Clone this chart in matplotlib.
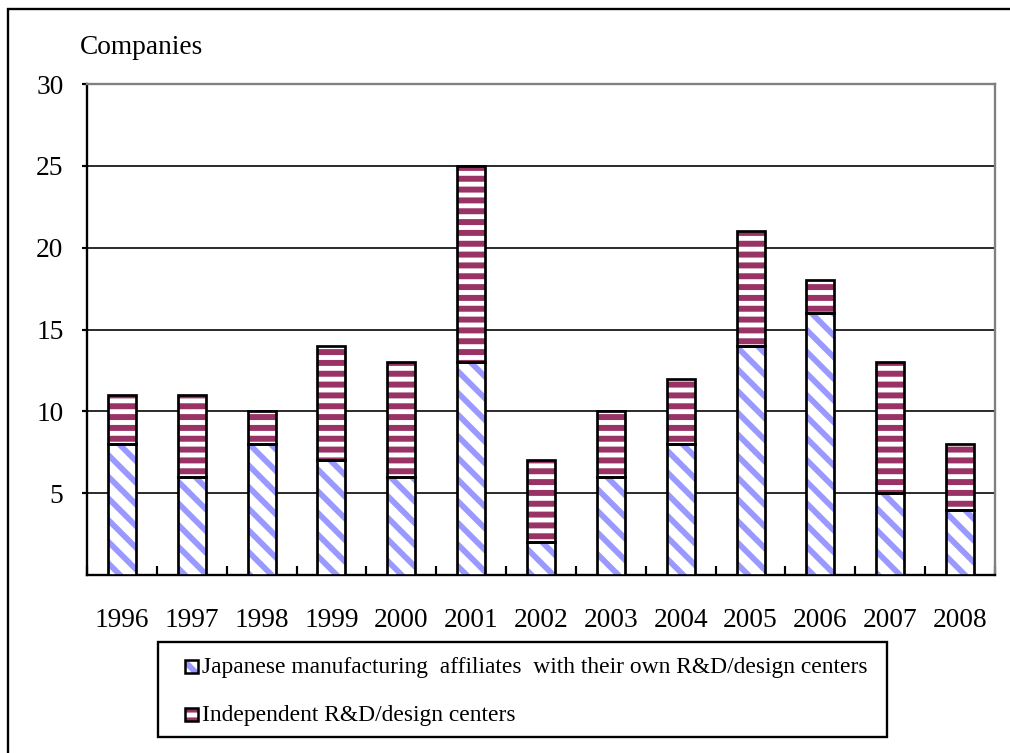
import numpy as np
import matplotlib.pyplot as plt
import matplotlib as mpl
from matplotlib.patches import Rectangle

# Data
years = ['1996', '1997', '1998', '1999', '2000', '2001', '2002',
         '2003', '2004', '2005', '2006', '2007', '2008']
affiliates = [8, 6, 8, 7, 6, 13, 2, 6, 8, 14, 16, 5, 4]
independent = [3, 5, 2, 7, 7, 12, 5, 4, 4, 7, 2, 8, 4]
yticks = [5, 10, 15, 20, 25, 30]
labels = ['Japanese manufacturing  affiliates  with their own R&D/design centers',
          'Independent R&D/design centers']

blue = '#9999FF'
purple = '#993366'
dpi = 130
W, H = 1010, 753
diag = '\\' * 2

plt.rcParams['font.family'] = 'Liberation Serif'

fig = plt.figure(figsize=(W / dpi, H / dpi), dpi=dpi)
ax = fig.add_axes([87 / W, 1 - 575 / H, 908 / W, 491 / H])

x = np.arange(len(years))
w = 0.4

# hatched fills
with mpl.rc_context({'hatch.linewidth': 3.2}):
    ax.bar(x, affiliates, w, color='white', edgecolor=blue, linewidth=0,
           hatch=diag, zorder=3)
with mpl.rc_context({'hatch.linewidth': 3.3}):
    ax.bar(x, independent, w, bottom=affiliates, color='white', edgecolor=purple,
           linewidth=0, hatch='--', zorder=3)
# outlines
ax.bar(x, affiliates, w, fill=False, edgecolor='black', linewidth=1.5, zorder=4)
ax.bar(x, independent, w, bottom=affiliates, fill=False, edgecolor='black',
       linewidth=1.5, zorder=4)

ax.set_xlim(-0.5, len(years) - 0.5)
ax.set_ylim(0, 30)
ax.set_yticks(yticks)
ax.yaxis.grid(True, color='black', linewidth=0.9, zorder=1)
ax.set_axisbelow(True)

ax.set_xticks(x)
ax.set_xticklabels(years)
ax.tick_params(axis='x', length=0, pad=18.5, labelsize=15.2)
ax.set_xticks(np.arange(len(years) + 1) - 0.5, minor=True)
ax.tick_params(axis='x', which='minor', direction='in', length=5, width=1.2)
ax.tick_params(axis='y', length=3, width=1.2, pad=10, labelsize=15.2)

for s in ['top', 'right']:
    ax.spines[s].set_color('#808080')
    ax.spines[s].set_linewidth(1.3)
for s in ['left', 'bottom']:
    ax.spines[s].set_linewidth(1.3)

fig.text(80 / W, 1 - 48 / H, 'Companies', fontsize=15.2, va='center', ha='left')


# legend, drawn by hand in pixel positions
def px(x0, y0):
    return x0 / W, 1 - y0 / H


fig.patches.append(Rectangle(px(158, 737), 729 / W, 95 / H, transform=fig.transFigure,
                             facecolor='white', edgecolor='black', linewidth=1.3))
styles = [(blue, diag, 3.2), (purple, '--', 3.3)]
for (col, hat, hlw), lab, yb in zip(styles, labels, [673, 721]):
    with mpl.rc_context({'hatch.linewidth': hlw}):
        fig.patches.append(Rectangle(px(185, yb), 13 / W, 13 / H,
                                     transform=fig.transFigure, facecolor='white',
                                     edgecolor=col, linewidth=0, hatch=hat))
    fig.patches.append(Rectangle(px(185, yb), 13 / W, 13 / H,
                                 transform=fig.transFigure, fill=False,
                                 edgecolor='black', linewidth=1.4))
    fig.text(*px(202, yb), lab, fontsize=13, va='baseline', ha='left')

# outer border
fig.patches.append(Rectangle((8 / W, -0.1), 1.2, 1 - 9 / H + 0.1,
                             transform=fig.transFigure, fill=False,
                             edgecolor='black', linewidth=1.3))

fig.savefig('out.png', dpi=dpi)
